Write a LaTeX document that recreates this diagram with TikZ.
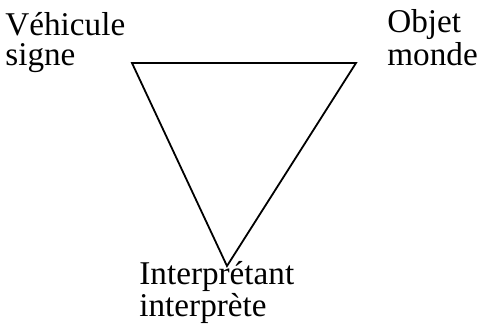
\documentclass[tikz,border=0pt]{standalone}
\usepackage{fontspec}
\setmainfont{Liberation Serif}
\usetikzlibrary{positioning}

\begin{document}
\begin{tikzpicture}[x=0.5pt, y=-0.5pt]
  \tikzset{
    pole/.style={inner sep=0, align=left, anchor=base west,
                 font=\fontsize{16.6}{15}\selectfont},
    edge/.style={black, line width=0.9pt, line join=miter},
  }
  \useasboundingbox (0,0) rectangle (479,327);

  % sommets du triangle
  \coordinate (signe) at (132,63);
  \coordinate (monde) at (356,63);
  \coordinate (interp) at (227,266);

  % les trois poles (ancre sur la derniere ligne)
  \node[pole] (vehicule) at (5,65) {Véhicule\\signe};
  \node[pole] (objet) at (387,65) {Objet\\monde};
  \node[pole] (interpretant) at (139,317) {Interprétant\\interprète};

  % triangle
  \draw[edge] (signe) -- (monde) -- (interp) -- cycle;
\end{tikzpicture}
\end{document}
